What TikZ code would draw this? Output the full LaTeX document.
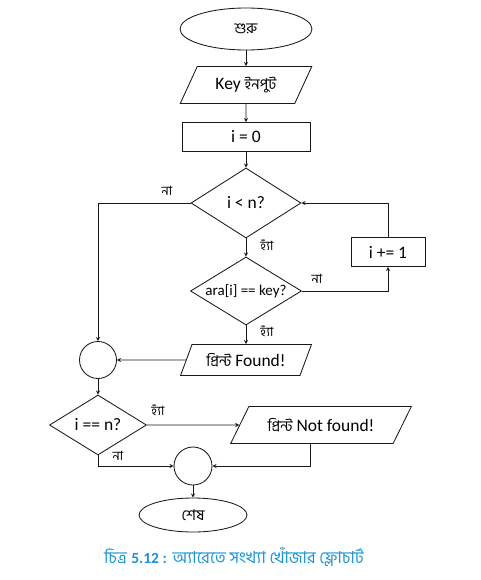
\documentclass[tikz,border=0pt]{standalone}
\usepackage{fontspec}
\setmainfont{Carlito}
\newfontfamily\bn[Script=Bengali, Scale=0.85]{Hind Siliguri}
\usetikzlibrary{shapes.geometric}
\definecolor{capblue}{RGB}{25,150,210}
\definecolor{linegray}{RGB}{25,25,25}

\tikzset{
  box/.style={draw=linegray, line width=0.85pt, inner sep=0pt, font=\fontsize{17.5}{20}\selectfont},
  term/.style={box, ellipse},
  proc/.style={box, rectangle},
  decide/.style={box, diamond, aspect=1.6},
  joint/.style={box, circle},
  io/.style={box, trapezium, trapezium stretches=true},
  lbl/.style={inner sep=0pt, font=\fontsize{15}{17}\selectfont\bn},
  flow/.style={draw=linegray, line width=0.85pt, ->}
}

\begin{document}
\begin{tikzpicture}[>=stealth, x=1pt, y=-1pt]
  \useasboundingbox (0,0) rectangle (481,580);

  % === প্রধান কলাম ===
  \node[term, minimum width=132, minimum height=42] (start) at (246,29) {\bn শুরু};
  \node[io, trapezium left angle=56, trapezium right angle=124,
        minimum width=132, minimum height=37] (input) at (246,85) {Key {\bn ইনপুট}};
  \node[proc, minimum width=128, minimum height=29] (init) at (246,137) {i = 0};
  \node[decide, minimum width=110, minimum height=70] (cond) at (246,203) {i < n?};
  \node[decide, minimum width=111, minimum height=68, font=\fontsize{15}{18}\selectfont] (check) at (246,291) {ara[i] == key?};
  \node[proc, minimum width=74, minimum height=29] (inc) at (388,252) {i += 1};
  \node[io, trapezium left angle=58, trapezium right angle=122,
        minimum width=131, minimum height=31] (found) at (246,360) {{\bn প্রিন্ট} Found!};

  % === নিচের অংশ ===
  \node[joint, minimum size=37] (join1) at (98,360) {};
  \node[decide, minimum width=97, minimum height=60] (test) at (98,425) {i == n?};
  \node[io, trapezium left angle=45, trapezium right angle=135,
        minimum width=181, minimum height=37] (notfound) at (321,425) {{\bn প্রিন্ট} Not found!};
  \node[joint, minimum size=38] (join2) at (193,466) {};
  \node[term, minimum width=108, minimum height=34] (stop) at (193,515) {\bn শেষ};

  % লেবেল
  \node[lbl] (yes1) at (267,245) {হ্যাঁ};
  \node[lbl] (yes2) at (267,331) {হ্যাঁ};
  \node[lbl] (no1) at (167,191) {না};
  \node[lbl] (no2) at (317,279) {না};
  \node[lbl] (yes3) at (158,410) {হ্যাঁ};
  \node[lbl] (no3) at (118,456) {না};

  % সংযোগ
  \draw[flow] (start) -- (input);
  \draw[flow] (input) -- (init);
  \draw[flow] (init) -- (cond);
  \draw[flow] (cond) -- (check);
  \draw[flow] (check) -- (found);
  \draw[flow] (check.east) -| (inc.south);
  \draw[flow] (inc.north) |- (cond.east);
  \draw[flow] (cond.west) -| (join1.north);
  \draw[flow] (found.west) -- (join1.east);
  \draw[flow] (join1) -- (test);
  \draw[flow] (test.east) -- (notfound.west);
  \draw[flow] (test.south) |- (join2.west);
  \draw[flow] ([xshift=-11]notfound.south) |- (join2.east);
  \draw[flow] (join2) -- (stop);

  % ক্যাপশন
  \node[text=capblue, font=\fontsize{19.4}{22}\selectfont] (caption) at (234,557)
    {{\bn চিত্র} {\fontsize{15.5}{18}\selectfont\bfseries 5.12 :} {\bn অ্যারেতে সংখ্যা খোঁজার ফ্লোচার্ট}};
\end{tikzpicture}
\end{document}
